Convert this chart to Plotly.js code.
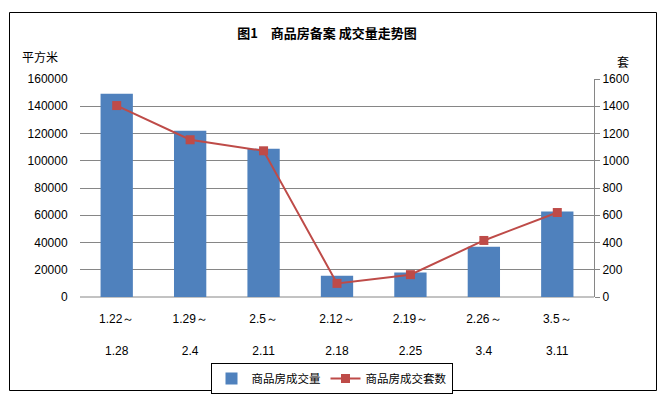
<!DOCTYPE html>
<html><head><meta charset="utf-8">
<script src="https://cdn.plot.ly/plotly-3.0.1.min.js"></script>
<style>html,body{margin:0;padding:0;background:#fff}#c{width:668px;height:399px}</style>
</head><body><div id="c"></div>
<script>
const categories = ["1.22～<br><br>1.28","1.29～<br><br>2.4","2.5～<br><br>2.11","2.12～<br><br>2.18","2.19～<br><br>2.25","2.26～<br><br>3.4","3.5～<br><br>3.11"];
const areaValues = [149200, 122000, 108800, 15600, 17900, 36900, 62700];
const unitValues = [1405, 1154, 1073, 100, 164, 415, 620];
const leftTicks = [0,20000,40000,60000,80000,100000,120000,140000,160000];
const rightTicks = [0,200,400,600,800,1000,1200,1400,1600];

const W=668,H=399,L=80,R=74,T=79,B=102;
const pw=W-L-R, ph=H-T-B;
const px=x=>(x-L)/pw, py=y=>(H-B-y)/ph;
const cjk='"Noto Sans CJK SC", "Liberation Sans", sans-serif';
const num='"Liberation Sans", Arial, sans-serif';

const traces=[
 {type:'bar',x:categories,y:areaValues,name:'商品房成交量',marker:{color:'#4F81BD'},yaxis:'y'},
 {type:'scatter',mode:'lines+markers',x:categories,y:unitValues,name:'商品房成交套数',yaxis:'y2',
  line:{color:'#BE4B48',width:2},marker:{symbol:'square',size:9,color:'#BE4B48'}}
];
const layout={
 width:W,height:H,margin:{l:L,r:R,t:T,b:B,autoexpand:false},paper_bgcolor:'#fff',plot_bgcolor:'#fff',
 bargap:0.56,showlegend:true,
 title:{text:'<b>图1　商品房备案 成交量走势图</b>',font:{family:cjk,size:13,color:'#000'},x:px(327),xanchor:'center',xref:'paper',y:1-33/H,yanchor:'middle'},
 xaxis:{tickfont:{family:num,size:12,color:'#000'},showgrid:false,showline:false,ticks:'outside',ticklen:11,tickcolor:'rgba(0,0,0,0)',tickangle:0,fixedrange:true,automargin:false},
 yaxis:{range:[0,160000],tickvals:leftTicks,ticktext:leftTicks.map(String),showgrid:true,gridcolor:'#868686',gridwidth:1,
   zeroline:false,showline:false,ticks:'outside',ticklen:9,tickcolor:'rgba(0,0,0,0)',tickfont:{family:num,size:12,color:'#000'},fixedrange:true,automargin:false},
 yaxis2:{range:[0,1600],tickvals:rightTicks,ticktext:rightTicks.map(String),overlaying:'y',side:'right',showgrid:false,zeroline:false,
   showline:true,linecolor:'#868686',linewidth:1,ticks:'outside',ticklen:5,tickcolor:'#868686',
   tickfont:{family:num,size:12,color:'#000'},fixedrange:true,automargin:false},
 legend:{orientation:'h',x:px(331.5),xanchor:'center',y:py(363),yanchor:'top',bordercolor:'#000',borderwidth:1,
   font:{family:cjk,size:11.5,color:'#000'},itemwidth:30,tracegroupgap:0,traceorder:'normal'},
 shapes:[
  {type:'rect',xref:'paper',yref:'paper',x0:px(9.5),x1:px(656.5),y0:py(390.5),y1:py(12.5),line:{color:'#000',width:1},fillcolor:'rgba(0,0,0,0)',layer:'below'},
  {type:'line',xref:'paper',yref:'paper',x0:0,x1:1,y0:0,y1:0,line:{color:'#868686',width:1},layer:'below'}
 ],
 annotations:[
  {text:'平方米',xref:'paper',yref:'paper',x:px(20),y:py(57),xanchor:'left',yanchor:'middle',showarrow:false,font:{family:cjk,size:12,color:'#000'}},
  {text:'套',xref:'paper',yref:'paper',x:px(623),y:py(62),xanchor:'center',yanchor:'middle',showarrow:false,font:{family:cjk,size:12,color:'#000'}}
 ]
};
Plotly.newPlot('c',traces,layout,{staticPlot:true,displayModeBar:false});
</script></body></html>
